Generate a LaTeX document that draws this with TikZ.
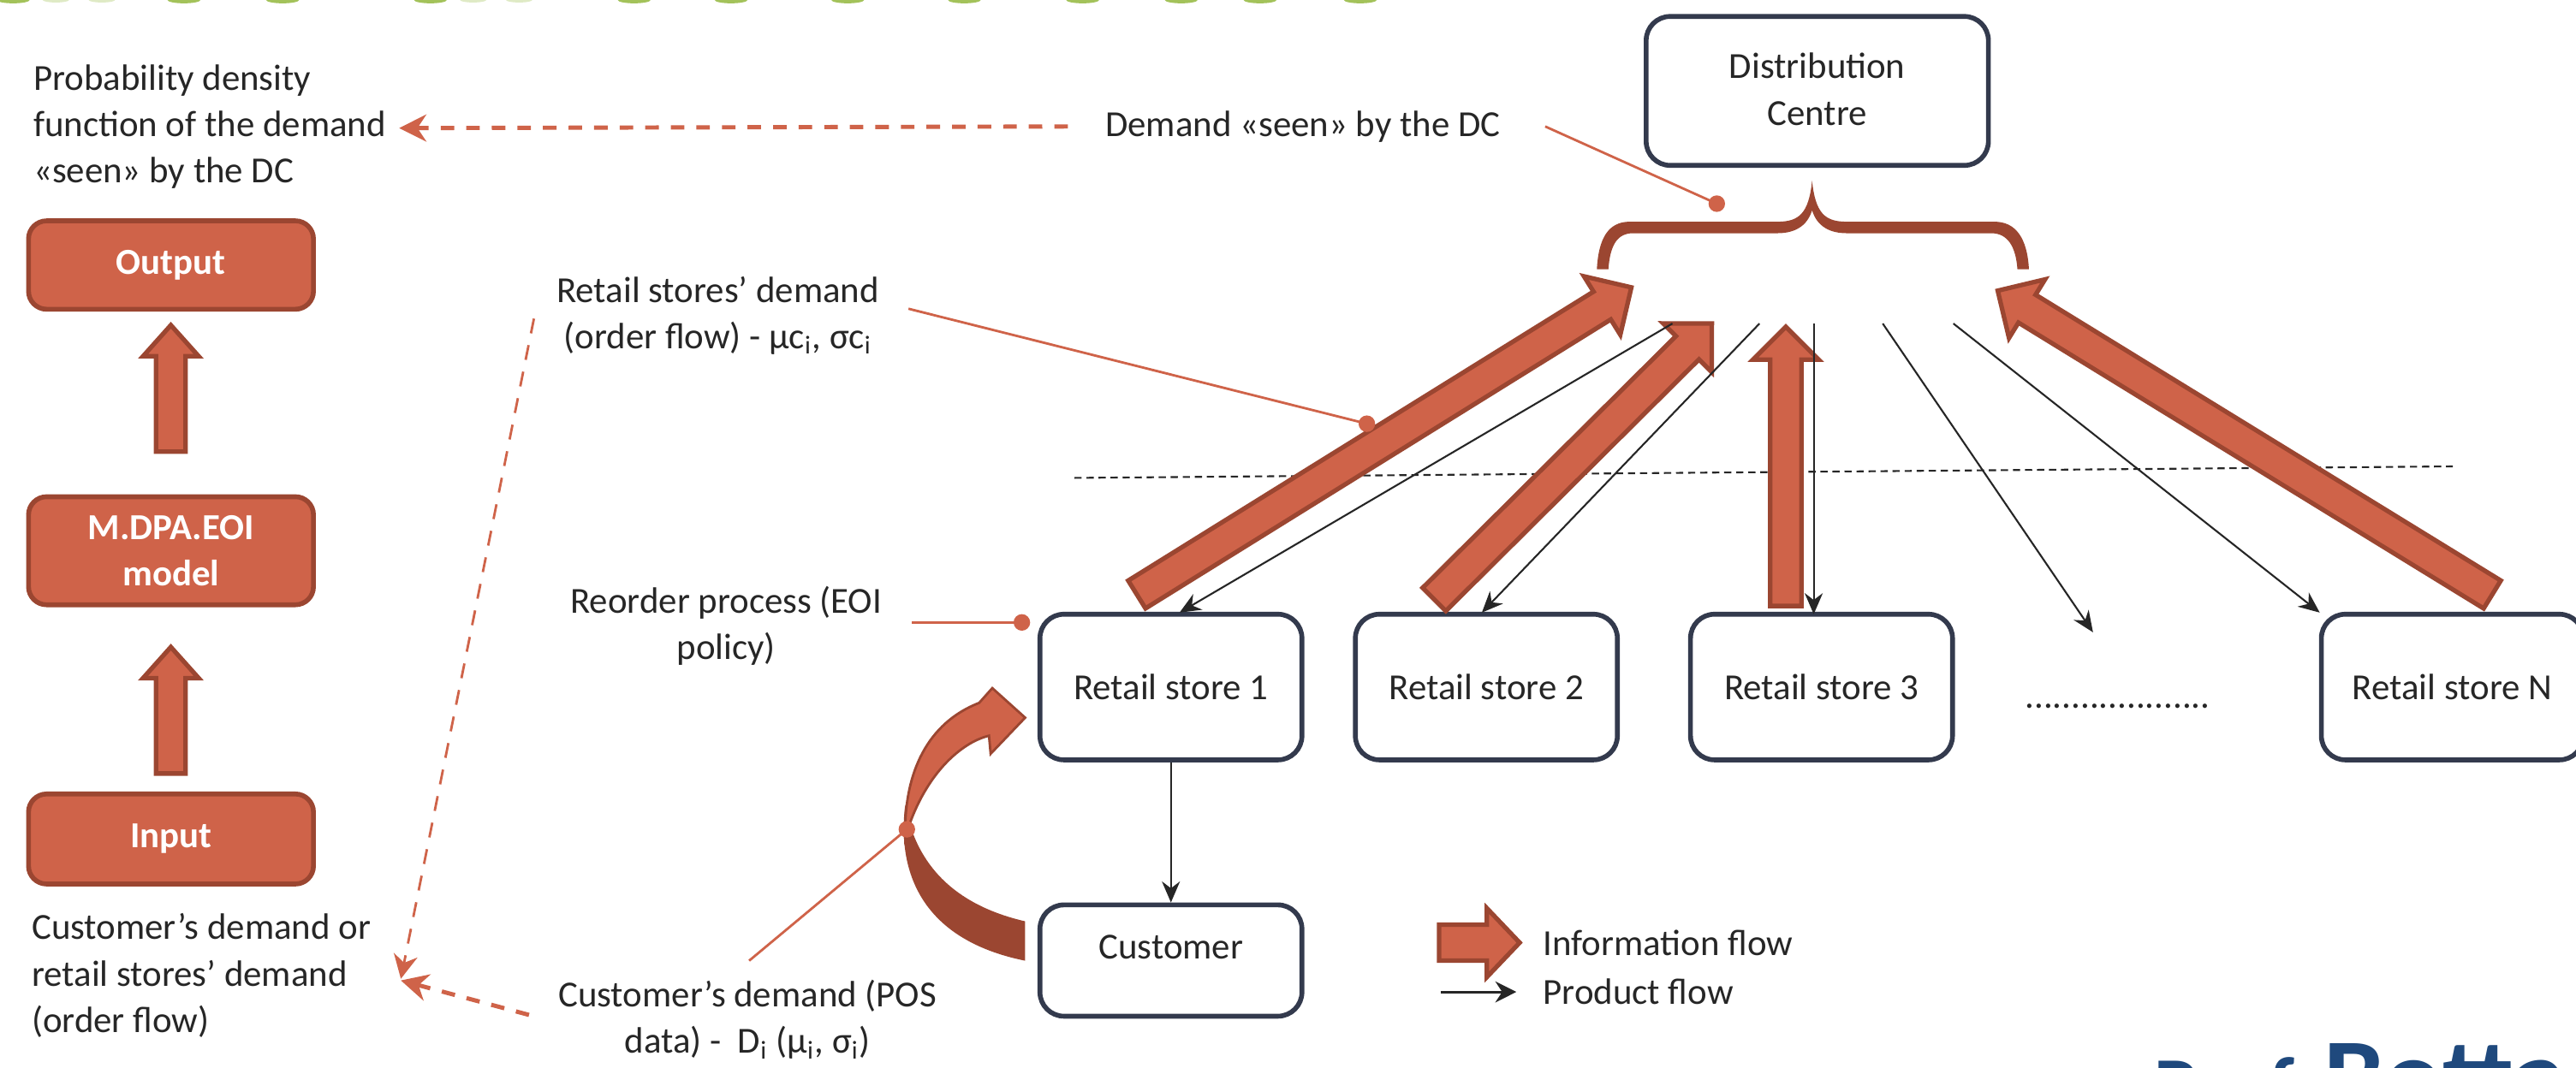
\documentclass[tikz,border=0pt]{standalone}
\usepackage{fontspec}
\setmainfont{Carlito}
\usetikzlibrary{calc,arrows.meta}
\definecolor{rust}{HTML}{CF6349}
\definecolor{rustd}{HTML}{9B4631}
\definecolor{navy}{HTML}{333A4D}
\definecolor{prof}{HTML}{1F497D}
\definecolor{tgreen}{HTML}{A3C25A}
\def\u{0.5444pt}
\tikzset{
 x=0.01919cm,y=-0.01919cm,
 label/.style={font=\fontsize{12.2}{15.4}\selectfont,text=black!85,inner sep=0pt,align=center},
 leftlabel/.style={label,align=left},
 storebox/.style={draw=navy,line width=1.6pt,rounded corners=8pt,fill=white,anchor=north west,xshift=-0.8pt,yshift=0.8pt,inner sep=0pt,font=\fontsize{12.2}{15.4}\selectfont,text=black!85,align=center},
 modelbox/.style={draw=rustd,line width=1.6pt,fill=rust,rounded corners=6pt,anchor=north west,xshift=-0.6pt,inner sep=0pt,text=white,font=\fontsize{12.2}{15.4}\selectfont\bfseries,align=center},
 infoshape/.style={fill=rust,draw=rustd,line width=1.5pt,line join=miter},
 product/.style={draw=black!85,line width=0.6pt,-{Stealth[length=7pt,width=6pt]}},
 note/.style={draw=rust,line width=0.8pt},
 notedot/.style={circle,fill=rust,minimum size=5.5pt,inner sep=0pt},
 refer/.style={draw=rust,line width=0.8pt,dash pattern=on 5pt off 4pt,-{Stealth[length=8pt,width=8pt]}},
 referthick/.style={draw=rust,line width=1.4pt,dash pattern=on 4.5pt off 4pt,-{Stealth[length=9pt,width=9pt]}},
}
% from, tip, shaft half width, head half width, head length (reference units)
\newcommand\infoarrow[5]{%
 \coordinate (na) at ($(#2)!#5*\u!(#1)$);
 \path[infoshape] ($(#1)!#3*\u!90:(#2)$) -- ($(na)!#3*\u!90:(#2)$) -- ($(na)!#4*\u!90:(#2)$) -- (#2)
   -- ($(na)!#4*\u!-90:(#2)$) -- ($(na)!#3*\u!-90:(#2)$) -- ($(#1)!#3*\u!-90:(#2)$) -- cycle;
}
\begin{document}
\begin{tikzpicture}
\useasboundingbox (0,0) rectangle (1568,650);
\begin{scope}
\clip (0,0) rectangle (1568,650);

% clipped remains at the page edges
\foreach \gx in {8,112,172,262,386,445,516,587,659,719,767,828}
  \fill[tgreen] (\gx,0) ellipse (10 and 2);
\foreach \gx in {34,62,288,316}
  \fill[tgreen!35] (\gx,0) ellipse (8 and 1.5);
\node[anchor=base west,inner sep=0pt,text=prof,font=\fontsize{27}{30}\selectfont\bfseries] (profa) at (1311,678) {Prof.};
\node[anchor=base west,inner sep=0pt,text=prof,font=\fontsize{36}{40}\selectfont\bfseries] (profb) at (1414,678) {Botta};

% model column
\node[modelbox,minimum width=174*\u,minimum height=54*\u] (output) at (17,133) {Output};
\node[modelbox,minimum width=174*\u,minimum height=66*\u] (model) at (17,301) {M.DPA.EOI\\model};
\node[modelbox,minimum width=174*\u,minimum height=55*\u] (input) at (17,482) {Input};
\coordinate (a1s) at (104,275); \coordinate (a1t) at (104,198);
\coordinate (a2s) at (104,471); \coordinate (a2t) at (104,394);
\infoarrow{a1s}{a1t}{9}{17}{19}
\infoarrow{a2s}{a2t}{9}{17}{19}

% texts
\node[leftlabel,anchor=north west] (pdf) at (20,39) {Probability density\\function of the demand\\«seen» by the DC};
\node[leftlabel,anchor=north west] (cust) at (19,556) {Customer’s demand or\\retail stores’ demand\\(order flow)};
\node[label] (seen) at (793,77) {Demand «seen» by the DC};
\node[label] (retail) at (437,192) {Retail stores’ demand\\(order flow) - µc\textsubscript{i}, σc\textsubscript{i}};
\node[label] (reorder) at (442,381) {Reorder process (EOI\\policy)};
\node[label] (pos) at (455,621) {Customer’s demand (POS\\data) - \ D\textsubscript{i} (µ\textsubscript{i}, σ\textsubscript{i})};

% boxes
\node[storebox,minimum width=209*\u,minimum height=91*\u] (dc) at (1002,10) {\raisebox{1.2pt}{Distribution}\\\raisebox{1.2pt}{Centre}};
\node[storebox,minimum width=160*\u,minimum height=89*\u] (s1) at (633,374) {Retail store 1};
\node[storebox,minimum width=160*\u,minimum height=89*\u] (s2) at (825,374) {Retail store 2};
\node[storebox,minimum width=160*\u,minimum height=89*\u] (s3) at (1029,374) {Retail store 3};
\node[storebox,minimum width=160*\u,minimum height=89*\u] (sn) at (1413,374) {Retail store N};
\node[storebox,minimum width=160*\u,minimum height=68*\u] (customer) at (633,551) {\raisebox{8.8pt}{Customer}};
\node[inner sep=0pt,font=\fontsize{12.2}{15.4}\selectfont,text=black!85] (dots) at (1289,430) {....................};

% dashed divider
\coordinate (d1) at (654,291); \coordinate (d2) at (1493,284);
\draw[black!85,line width=0.6pt,dash pattern=on 2.4pt off 1.6pt] (d1) -- (d2);

% brace
\coordinate (brace) at (1103,110);
\fill[rustd] (972,164) .. controls (973,145) and (979,135) .. (992,135) -- (1082,135)
  .. controls (1095,135) and (1101,130) .. (brace)
  .. controls (1105,130) and (1111,135) .. (1124,135) -- (1214,135)
  .. controls (1227,135) and (1234,145) .. (1235,164) -- (1228,164)
  .. controls (1227,150) and (1222,142) .. (1212,142) -- (1124,142)
  .. controls (1114,142) and (1106,138) .. (1103,128)
  .. controls (1100,138) and (1092,142) .. (1082,142) -- (994,142)
  .. controls (984,142) and (980,150) .. (979,164) -- cycle;

% product flow
\coordinate (p1) at (1018,197); \coordinate (p2) at (1071,197); \coordinate (p3) at (1104,197);
\coordinate (p4) at (1146,197); \coordinate (p5) at (1189,197);
\coordinate (e1) at (718,373); \coordinate (e2) at (902,373); \coordinate (e3) at (1104,374);
\coordinate (e4) at (1274,385); \coordinate (e5) at (1412,373);

% information flow
\coordinate (b1) at (692,362); \coordinate (t1) at (993,175);
\coordinate (b2) at (873,365); \coordinate (t2) at (1042,197);
\coordinate (b3) at (1087,369); \coordinate (t3) at (1087,199);
\coordinate (b4) at (1517,362); \coordinate (t4) at (1216,177);
\infoarrow{b1}{t1}{10}{21}{21}
\infoarrow{b2}{t2}{10}{21}{21}
\infoarrow{b3}{t3}{9.5}{20}{20}
\infoarrow{b4}{t4}{10}{21}{21}

\draw[product] (p1) -- (e1);
\draw[product] (p2) -- (e2);
\draw[product] (p3) -- (e3);
\draw[product] (p4) -- (e4);
\draw[product] (p5) -- (e5);
\draw[product] (s1.south) -- (customer.north);

% curved information arrow
\fill[rustd] (624,561) .. controls (585,552) and (558,530) .. (551,490)
  .. controls (546,530) and (560,572) .. (624,585) -- cycle;
\path[fill=rust,draw=rustd,line width=0.8pt] (551,510) .. controls (550,470) and (565,440) .. (596,428)
  -- (604,419) -- (624,437) -- (603,459) -- (602,448) .. controls (585,452) and (562,472) .. (551,510) -- cycle;

% notes
\draw[note] (seen.east) ++(27,0) coordinate (n1) -- (1045,124) node[notedot] (n1d) {};
\draw[note] (553,188) coordinate (n2) -- (832,258) node[notedot] (n2d) {};
\draw[note] (555,379) coordinate (n3) -- (622,379) node[notedot] (n3d) {};
\draw[note] (456,585) coordinate (n4) -- (552,505) node[notedot] (n4d) {};

% reference arrows
\coordinate (r1) at (650,77); \coordinate (r1t) at (243,78);
\coordinate (r2) at (325,194); \coordinate (r2t) at (244,596);
\coordinate (r3) at (322,618); \coordinate (r3t) at (244,597);
\draw[referthick] (r1) -- (r1t);
\draw[refer] (r2) -- (r2t);
\draw[referthick] (r3) -- (r3t);

% legend
\coordinate (lg1) at (876,574); \coordinate (lg2) at (925,574);
\infoarrow{lg1}{lg2}{11}{21}{20}
\coordinate (lp1) at (877,604); \coordinate (lp2) at (923,604);
\draw[draw=black!85,line width=0.8pt,-{Stealth[length=7pt,width=7pt]}] (lp1) -- (lp2);
\node[label,anchor=west] (linfo) at (939,574) {Information flow};
\node[label,anchor=west] (lprod) at (939,604) {Product flow};
\end{scope}
\end{tikzpicture}
\end{document}
